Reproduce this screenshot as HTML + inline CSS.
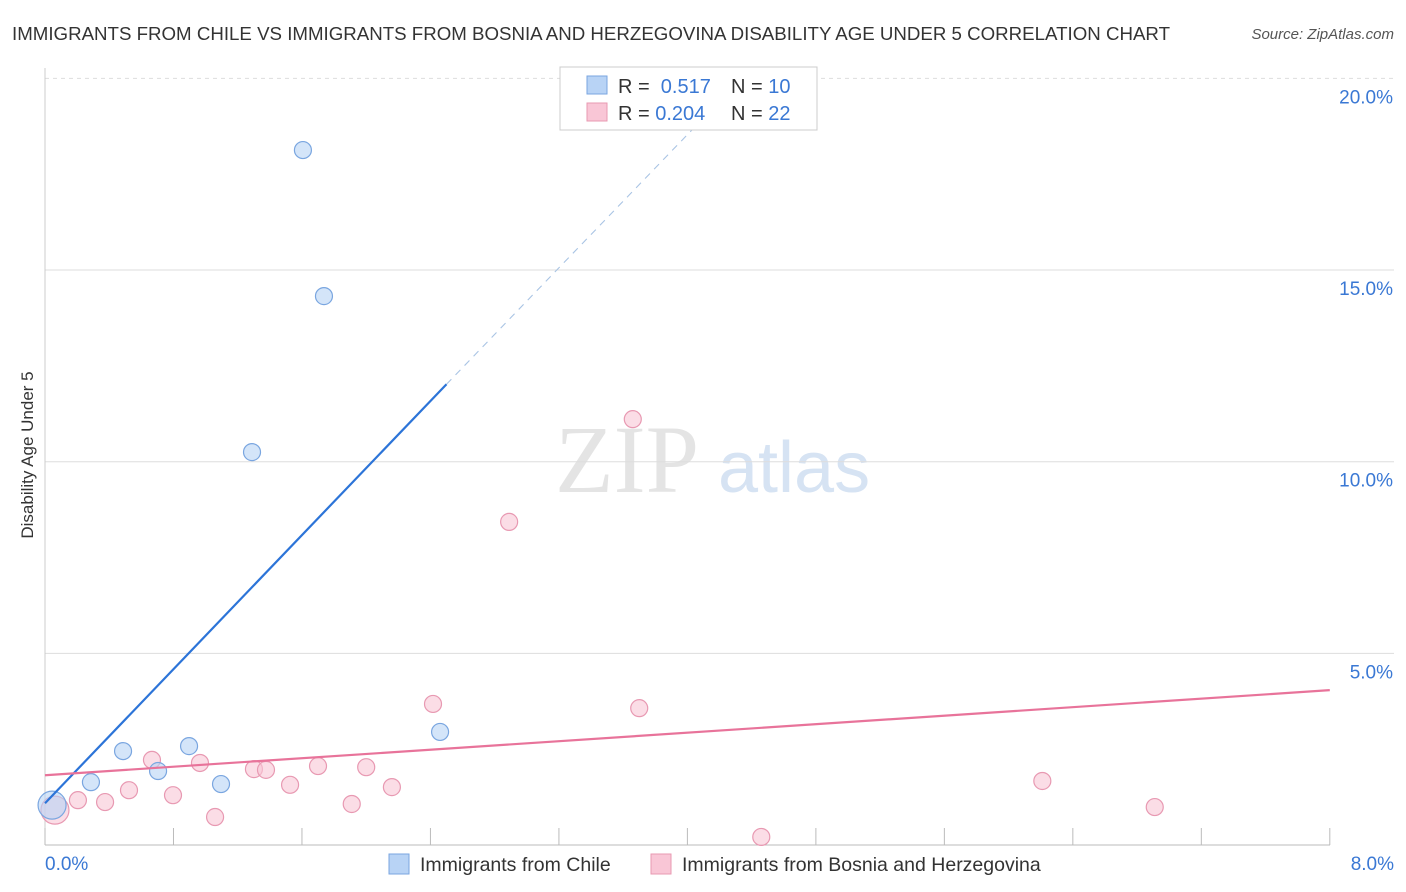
<!DOCTYPE html>
<html><head><meta charset="utf-8"><style>
body{margin:0;background:#fff;font-family:"Liberation Sans",sans-serif}
svg{display:block}
</style></head><body>
<svg id="c" width="1406" height="892">
<text x="12" y="40" font-size="18" fill="#333" textLength="1158" lengthAdjust="spacingAndGlyphs">IMMIGRANTS FROM CHILE VS IMMIGRANTS FROM BOSNIA AND HERZEGOVINA DISABILITY AGE UNDER 5 CORRELATION CHART</text>
<text x="1394" y="39" font-size="15" fill="#555" font-style="italic" text-anchor="end">Source: ZipAtlas.com</text>
<text transform="translate(33,455) rotate(-90)" font-size="17" fill="#333" text-anchor="middle">Disability Age Under 5</text>
<text x="555" y="492" font-size="96" fill="#e4e4e4" font-family="Liberation Serif">ZIP</text>
<text x="718" y="492" font-size="72" fill="#d6e3f3">atlas</text>
<g id="grid"></g><g id="marks"></g>
<g>
<rect x="560" y="67" width="257" height="63" fill="#fff" stroke="#ccc"/>
<rect x="587" y="76" width="20" height="18" fill="#b8d3f5" stroke="#7aa6e0"/>
<rect x="587" y="103" width="20" height="18" fill="#f9c6d6" stroke="#e899b2"/>
<text x="618" y="93" font-size="20" fill="#333">R = <tspan fill="#3a78d4">&#160;0.517</tspan><tspan x="731">N = </tspan><tspan fill="#3a78d4">10</tspan></text>
<text x="618" y="120" font-size="20" fill="#333">R = <tspan fill="#3a78d4">0.204</tspan><tspan x="731">N = </tspan><tspan fill="#3a78d4">22</tspan></text>
</g>
<g>
<rect x="389" y="854" width="20" height="20" fill="#b8d3f5" stroke="#7aa6e0"/>
<text x="420" y="871" font-size="19.5" fill="#333">Immigrants from Chile</text>
<rect x="651" y="854" width="20" height="20" fill="#f9c6d6" stroke="#e899b2"/>
<text x="682" y="871" font-size="19.5" fill="#333">Immigrants from Bosnia and Herzegovina</text>
</g>
</svg>
<script>
const yTicks=[5,10,15,20];
const yTickLabels=["5.0%","10.0%","15.0%","20.0%"];
const xEndLabels=["0.0%","8.0%"];
const chileX=[1.606,1.737,1.289,0.486,0.897,0.704,0.286,1.096,2.46,0.044];
const chileY=[18.13,14.32,10.25,2.45,2.58,1.93,1.64,1.59,2.95,1.04];
const bosX=[0.062,0.205,0.374,0.523,0.666,0.797,0.965,1.059,1.301,1.376,1.526,1.70,1.91,2.0,2.16,2.416,2.89,3.66,3.70,4.46,6.21,6.91];
const bosY=[0.91,1.17,1.12,1.43,2.22,1.30,2.14,0.73,1.98,1.96,1.57,2.06,1.07,2.03,1.51,3.68,8.43,11.11,3.57,0.21,1.67,0.99];
const chileLine=[0,1.09,2.5,12.02];const chileDash=[2.5,12.02,4.2,19.4];
const bosLine=[0,1.82,8,4.04];
const X=v=>45+v*160.6, Y=v=>845-v*38.33;
const NS="http://www.w3.org/2000/svg";
function mk(p,t,a){const e=document.createElementNS(NS,t);for(const k in a)e.setAttribute(k,a[k]);p.appendChild(e);return e;}
const g=document.getElementById('grid'),m=document.getElementById('marks');
yTicks.forEach((t,i)=>{
 const l=mk(g,'line',{x1:45,x2:1394,y1:Y(t),y2:Y(t),stroke:'#ddd','stroke-dasharray':i==3?'4,4':'none'});
 
 
 const tx=mk(g,'text',{x:1393,y:Y(t)+25,'font-size':19,fill:'#3a78d4','text-anchor':'end'});tx.textContent=yTickLabels[i];
 
 
});
const ax=mk(g,'line',{x1:45,x2:1330,y1:845,y2:845,stroke:'#bbb'});


const ay=mk(g,'line',{x1:45,x2:45,y1:68,y2:845,stroke:'#ccc'});


for(let i=0;i<=10;i++){const t=mk(g,'line',{x1:X(i*0.8),x2:X(i*0.8),y1:828,y2:845,stroke:'#bbb'});
 
 }
[[0,'start',45],[8,'end',1394]].forEach((d,i)=>{const t=mk(g,'text',{x:d[2],y:870,'font-size':19,fill:'#3a78d4','text-anchor':d[1]});t.textContent=xEndLabels[i];
 
 });
function pts(xs,ys,fill,stroke,name){xs.forEach((x,i)=>{
 const c=mk(m,'circle',{cx:X(x),cy:Y(ys[i]),r:(x<0.1?14:8.5),fill:fill,'fill-opacity':0.6,stroke:stroke,'stroke-width':1.2});
 
 });}
pts(bosX,bosY,'#f9c6d6','#e899b2','bosnia-point');
pts(chileX,chileY,'#b8d3f5','#7aa6e0','chile-point');
const b1=mk(m,'line',{x1:X(chileLine[0]),y1:Y(chileLine[1]),x2:X(chileLine[2]),y2:Y(chileLine[3]),stroke:'#2c74d8','stroke-width':2.2});


const b2=mk(m,'line',{x1:X(chileDash[0]),y1:Y(chileDash[1]),x2:X(chileDash[2]),y2:Y(chileDash[3]),stroke:'#a9c4e4','stroke-width':1.1,'stroke-dasharray':'7,6'});


const p1=mk(m,'line',{x1:X(bosLine[0]),y1:Y(bosLine[1]),x2:X(bosLine[2]),y2:Y(bosLine[3]),stroke:'#e8739a','stroke-width':2.2});


</script>
</body></html>
